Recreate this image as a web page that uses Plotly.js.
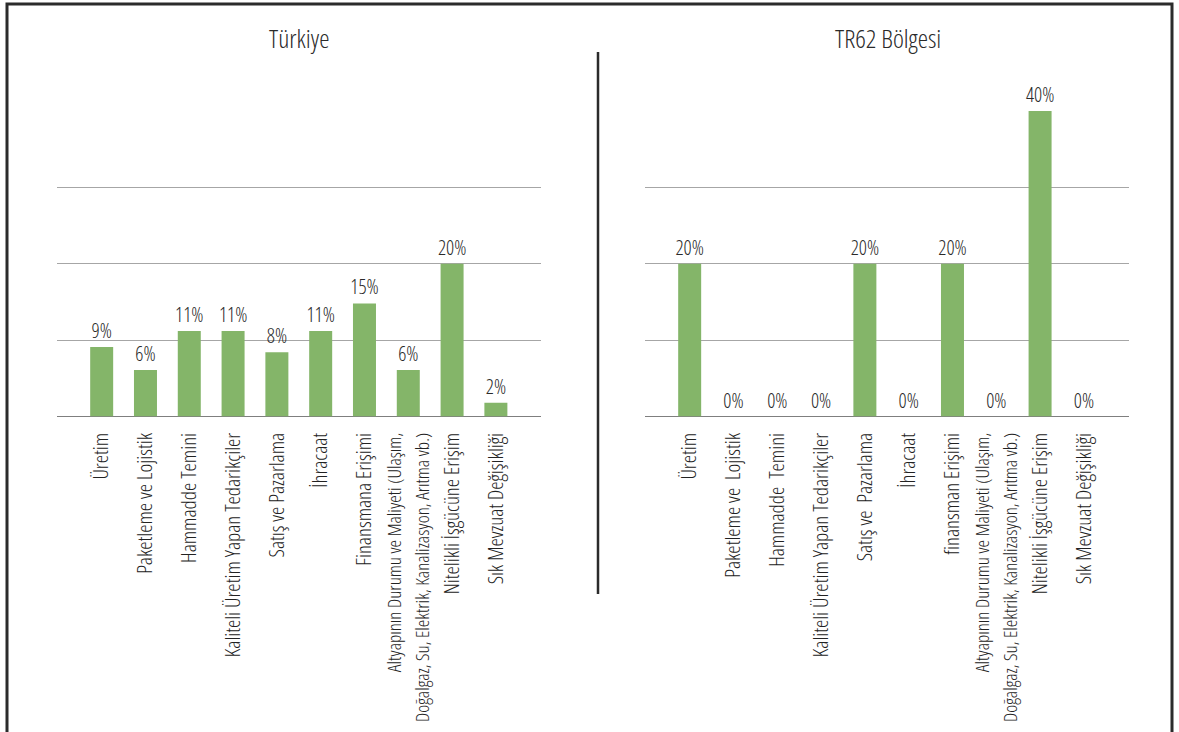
<!DOCTYPE html>
<html><head><meta charset="utf-8">
<script src="https://cdn.plot.ly/plotly-3.0.1.min.js"></script>
<style>html,body{margin:0;padding:0;background:#fff} svg text{font-stretch:75% !important}</style>
</head><body><div id="chart" style="width:1179px;height:732px"></div>
<script>
const catsTR = ["Üretim","Paketleme ve Lojistik","Hammadde Temini","Kaliteli Üretim Yapan Tedarikçiler","Satış ve Pazarlama","İhracaat","Finansmana Erişimi","Altyapının Durumu ve Maliyeti (Ulaşım,<br>Doğalgaz, Su, Elektrik, Kanalizasyon, Arıtma vb.)","Nitelikli İşgücüne Erişim","Sık Mevzuat Değişikliği"];
const valsTR = [9.1, 6.1, 11.2, 11.2, 8.4, 11.2, 14.8, 6.1, 20, 1.8];
const labelsTR = ["9%","6%","11%","11%","8%","11%","15%","6%","20%","2%"];
const catsR = ["Üretim","Paketleme ve  Lojistik","Hammadde  Temini","Kaliteli Üretim Yapan Tedarikçiler","Satış ve  Pazarlama","İhracaat","finansman Erişimi","Altyapının Durumu ve Maliyeti (Ulaşım,<br>Doğalgaz, Su, Elektrik, Kanalizasyon, Arıtma vb.)","Nitelikli İşgücüne Erişim","Sık Mevzuat Değişikliği"];
const valsR = [20, 0, 0, 0, 20, 0, 20, 0, 40, 0];
const labelsR = ["20%","0%","0%","0%","20%","0%","20%","0%","40%","0%"];
const titles = ["Türkiye","TR62 Bölgesi"];

const FONT = "'Open Sans', sans-serif";
const GREEN = "#84b569";
const W = 1179, H = 732;
const px = v => v / W, py = v => 1 - v / H;
const idx = arr => arr.map((_, i) => i);
const tickText = arr => arr.map(c => c.indexOf('<br>') >= 0
  ? c.split('<br>').map(s => '<span style="font-size:19px">' + s + '</span>').join('<br>') : c);

const bar = (y, t, xa, ya) => ({
  type: 'bar', x: idx(y), y: y, text: t, textposition: 'outside', cliponaxis: false, constraintext: 'none',
  textfont: {family: FONT, size: 20, color: '#2a2a2a', weight: 350},
  marker: {color: GREEN}, xaxis: xa, yaxis: ya, hoverinfo: 'skip'
});

const xa = (dom, cats) => ({domain: dom, range: [-1.02, 10.03], tickvals: idx(cats), ticktext: tickText(cats),
  showgrid: false, showline: false, zeroline: false,
  tickangle: -90, ticks: 'outside', ticklen: 7, tickcolor: 'rgba(0,0,0,0)',
  tickfont: {family: FONT, size: 21, color: '#222', weight: 350}, automargin: false, fixedrange: true});
const ya = (anchor) => ({domain: [py(416.5), py(111)], range: [0, 40], tickvals: [0,10,20,30,40],
  showticklabels: false, showgrid: true, gridcolor: '#a6a6a6', gridwidth: 1,
  zeroline: true, zerolinecolor: '#7f7f7f', zerolinewidth: 1.5, anchor: anchor, automargin: false, fixedrange: true});

const data = [bar(valsTR, labelsTR, 'x', 'y'), bar(valsR, labelsR, 'x2', 'y2')];
const titleFont = {family: FONT, size: 26, color: '#2a2a2a', weight: 350};
const layout = {
  width: W, height: H, margin: {l: 0, r: 0, t: 0, b: 0},
  paper_bgcolor: '#fff', plot_bgcolor: 'rgba(0,0,0,0)', showlegend: false, bargap: 0.475,
  font: {family: FONT},
  xaxis: xa([px(57), px(541)], catsTR), yaxis: ya('x'),
  xaxis2: Object.assign(xa([px(645), px(1129)], catsR), {anchor: 'y2'}), yaxis2: ya('x2'),
  annotations: [
    {text: titles[0], x: px(299), y: py(38), xref: 'paper', yref: 'paper', xanchor: 'center', yanchor: 'middle', showarrow: false, font: titleFont},
    {text: titles[1], x: px(888), y: py(38), xref: 'paper', yref: 'paper', xanchor: 'center', yanchor: 'middle', showarrow: false, font: titleFont}
  ],
  shapes: [
    {type: 'rect', xref: 'paper', yref: 'paper', x0: px(7), x1: px(1172), y0: py(745), y1: py(4), line: {color: '#2b2b2b', width: 3}},
    {type: 'line', xref: 'paper', yref: 'paper', x0: px(598), x1: px(598), y0: py(594), y1: py(52), line: {color: '#2b2b2b', width: 2.5}}
  ]
};
Plotly.newPlot('chart', data, layout, {displayModeBar: false, staticPlot: true});
</script></body></html>
